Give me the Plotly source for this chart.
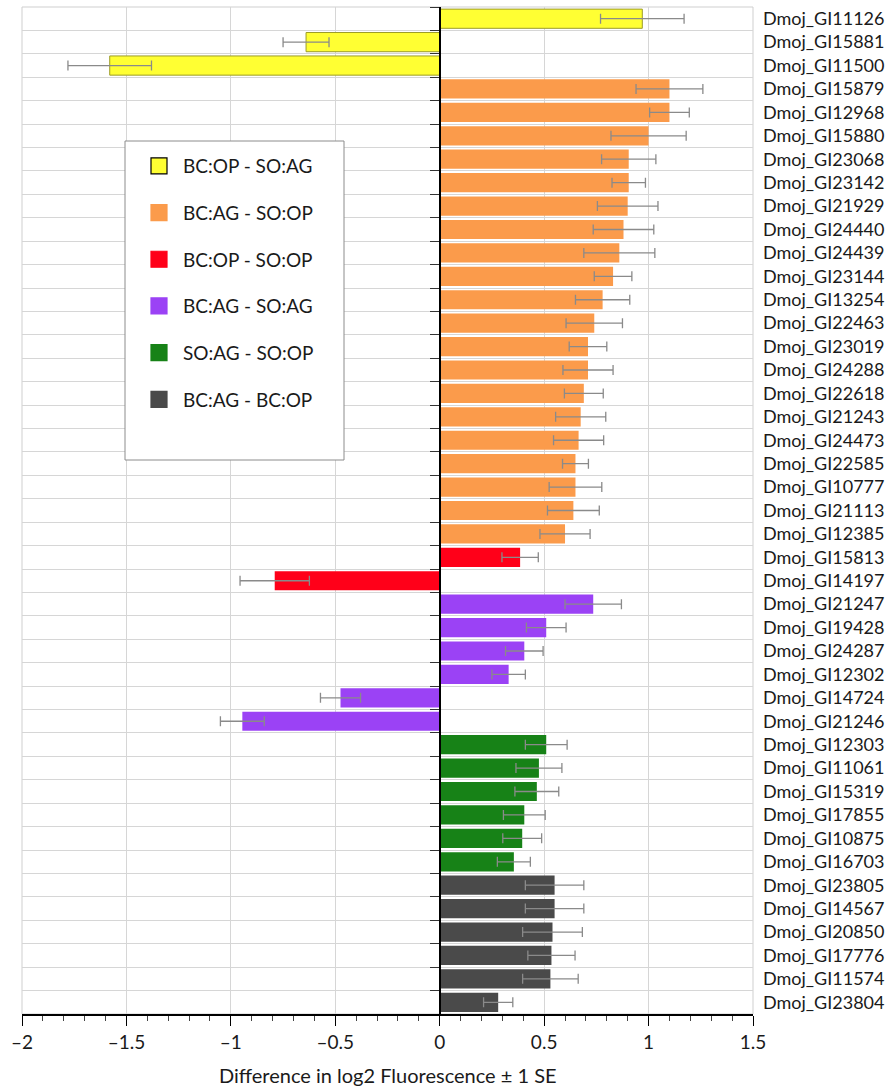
import plotly.graph_objects as go

# ---------------- data ----------------
genes = [
    "Dmoj_GI11126", "Dmoj_GI15881", "Dmoj_GI11500",
    "Dmoj_GI15879", "Dmoj_GI12968", "Dmoj_GI15880", "Dmoj_GI23068", "Dmoj_GI23142",
    "Dmoj_GI21929", "Dmoj_GI24440", "Dmoj_GI24439", "Dmoj_GI23144", "Dmoj_GI13254",
    "Dmoj_GI22463", "Dmoj_GI23019", "Dmoj_GI24288", "Dmoj_GI22618", "Dmoj_GI21243",
    "Dmoj_GI24473", "Dmoj_GI22585", "Dmoj_GI10777", "Dmoj_GI21113", "Dmoj_GI12385",
    "Dmoj_GI15813", "Dmoj_GI14197",
    "Dmoj_GI21247", "Dmoj_GI19428", "Dmoj_GI24287", "Dmoj_GI12302", "Dmoj_GI14724", "Dmoj_GI21246",
    "Dmoj_GI12303", "Dmoj_GI11061", "Dmoj_GI15319", "Dmoj_GI17855", "Dmoj_GI10875", "Dmoj_GI16703",
    "Dmoj_GI23805", "Dmoj_GI14567", "Dmoj_GI20850", "Dmoj_GI17776", "Dmoj_GI11574", "Dmoj_GI23804",
]
values = [
    0.97, -0.64, -1.58,
    1.10, 1.10, 1.00, 0.905, 0.905,
    0.90, 0.88, 0.86, 0.83, 0.78,
    0.74, 0.71, 0.71, 0.69, 0.675,
    0.665, 0.65, 0.65, 0.64, 0.60,
    0.385, -0.79,
    0.735, 0.51, 0.405, 0.33, -0.475, -0.945,
    0.51, 0.475, 0.465, 0.405, 0.395, 0.355,
    0.55, 0.55, 0.54, 0.535, 0.53, 0.28,
]
errors = [
    0.20, 0.11, 0.20,
    0.16, 0.095, 0.18, 0.13, 0.08,
    0.145, 0.145, 0.17, 0.09, 0.13,
    0.135, 0.09, 0.12, 0.093, 0.12,
    0.12, 0.062, 0.126, 0.124, 0.12,
    0.087, 0.166,
    0.135, 0.095, 0.09, 0.08, 0.096, 0.105,
    0.10, 0.11, 0.105, 0.10, 0.093, 0.079,
    0.14, 0.14, 0.143, 0.113, 0.133, 0.07,
]
group_of_gene = (
    ["BC:OP - SO:AG"] * 3
    + ["BC:AG - SO:OP"] * 20
    + ["BC:OP - SO:OP"] * 2
    + ["BC:AG - SO:AG"] * 6
    + ["SO:AG - SO:OP"] * 6
    + ["BC:AG - BC:OP"] * 6
)
group_names = ["BC:OP - SO:AG", "BC:AG - SO:OP", "BC:OP - SO:OP",
               "BC:AG - SO:AG", "SO:AG - SO:OP", "BC:AG - BC:OP"]
group_colors = ["#FFFF33", "#FB9B4B", "#FF0019", "#9B42F5", "#178217", "#4A4A4A"]
group_lines = ["#9C9C28", "#FB9B4B", "#FF0019", "#9B42F5", "#178217", "#4A4A4A"]
x_ticks = [-2, -1.5, -1, -0.5, 0, 0.5, 1, 1.5]
x_ticktext = ["–2", "–1.5", "–1", "–0.5", "0", "0.5", "1", "1.5"]
x_title = "Difference in log2 Fluorescence ± 1 SE"

# ---------------- figure ----------------
FONT = "Lato"
TXT = "#1a1a1a"
W, H = 896, 1088
ML, MR, MT, MB = 22, 143, 7, 74
pw = W - ML - MR
ph = H - MT - MB


def px_x(p):
    return (p - ML) / pw


def px_y(p):
    return (H - MB - p) / ph


fig = go.Figure()

for g, name in enumerate(group_names):
    idx = [i for i, gg in enumerate(group_of_gene) if gg == name]
    fig.add_trace(go.Bar(
        x=[values[i] for i in idx],
        y=[genes[i] for i in idx],
        orientation="h",
        width=0.82,
        marker=dict(color=group_colors[g],
                    line=dict(color=group_lines[g], width=1 if g == 0 else 0)),
        error_x=dict(type="data", array=[errors[i] for i in idx], symmetric=True,
                     color="#8A8A8A", thickness=1.3, width=5),
        showlegend=False,
        name=name,
    ))

# legend proxies (bigger square symbols)
for g, name in enumerate(group_names):
    fig.add_trace(go.Scatter(
        x=[None], y=[None], mode="markers", name=name,
        legendgroup=name,
        marker=dict(symbol="square", size=16, color=group_colors[g],
                    line=dict(color="#000000" if g == 0 else group_colors[g], width=1.2)),
    ))

# invisible trace to register categories on the zero-line axis
fig.add_trace(go.Scatter(x=[0] * len(genes), y=genes, yaxis="y2", mode="markers",
                         marker=dict(opacity=0), hoverinfo="skip", showlegend=False))

n = len(genes)
fig.update_layout(
    template="none",
    width=W, height=H,
    margin=dict(l=ML, r=MR, t=MT, b=MB, pad=0),
    paper_bgcolor="white", plot_bgcolor="white",
    barmode="overlay",
    font=dict(family=FONT, color=TXT),
    xaxis=dict(
        automargin=False,
        range=[-2, 1.5], tickvals=x_ticks, ticktext=x_ticktext,
        ticks="outside", ticklen=10, tickwidth=1, tickcolor="#000",
        minor=dict(dtick=0.1, ticks="outside", ticklen=5, tickcolor="#444", showgrid=False),
        showline=True, linecolor="#000", linewidth=1.5,
        showgrid=True, gridcolor="#D6D6D6", gridwidth=1, zeroline=False,
        tickfont=dict(size=19, family=FONT, color=TXT),
    ),
    yaxis=dict(
        automargin=False,
        type="category", categoryorder="array", categoryarray=genes,
        range=[n - 0.5, -0.5], side="right", tickson="boundaries",
        ticks="", ticklabelstandoff=9,
        showgrid=True, gridcolor="#D6D6D6", gridwidth=1, zeroline=False,
        tickfont=dict(size=18, family=FONT, color=TXT),
    ),
    yaxis2=dict(
        automargin=False,
        type="category", categoryorder="array", categoryarray=genes,
        range=[n - 0.5, -0.5], overlaying="y", anchor="free", position=2 / 3.5,
        side="left", tickson="boundaries", ticks="outside", ticklen=9,
        tickcolor="#333", tickwidth=1.3, showticklabels=False, showgrid=False,
        showline=True, linecolor="#000", linewidth=1.6, zeroline=False,
    ),
    legend=dict(
        x=px_x(135), y=px_y(147), xanchor="left", yanchor="top",
        bgcolor="rgba(0,0,0,0)", borderwidth=0,
        font=dict(size=19, family=FONT, color=TXT),
        tracegroupgap=19, itemwidth=38,
    ),
    annotations=[
        dict(text=x_title, xref="paper", yref="paper", x=0.5, y=px_y(1075),
             xanchor="center", yanchor="middle", showarrow=False,
             font=dict(size=20, family=FONT, color=TXT)),
    ],
    shapes=[
        dict(type="rect", xref="paper", yref="paper", x0=0, x1=1, y0=0, y1=1,
             line=dict(color="#CFCFCF", width=1), layer="below"),
        dict(type="rect", xref="paper", yref="paper",
             x0=px_x(125), x1=px_x(344), y0=px_y(460), y1=px_y(141),
             line=dict(color="#8C8C8C", width=1), fillcolor="white", layer="above"),
    ],
)

fig.write_html("out.html", config={"displayModeBar": False},
               post_script="document.body.style.margin='0px';")
